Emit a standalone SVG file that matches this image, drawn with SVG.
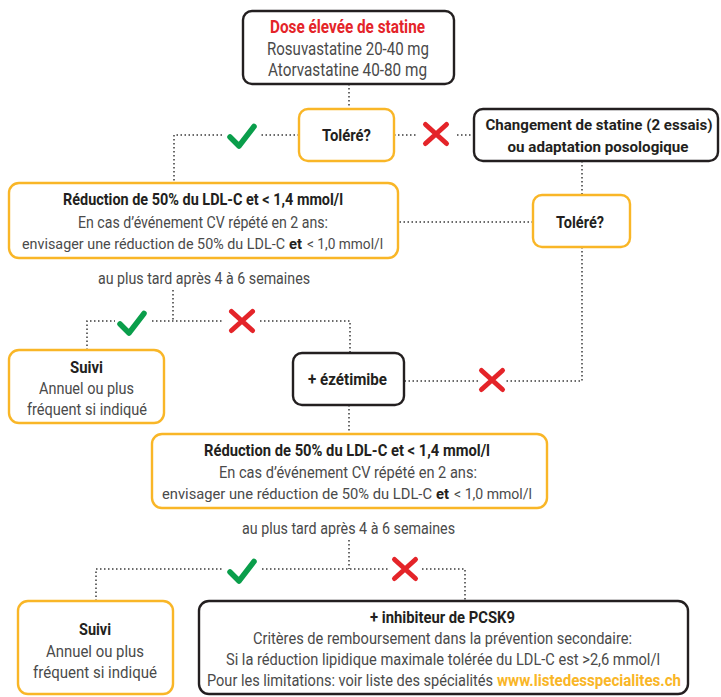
<svg xmlns="http://www.w3.org/2000/svg" width="721" height="697" viewBox="0 0 721 697">
  <style>
    .box { fill: #fff; stroke-width: 2.4; }
    .ok-box { stroke: #f9b627; }
    .act-box { stroke: #231f20; }
    text { font-family: Roboto, "Liberation Sans", sans-serif; }
    .t { font-size: 16px; fill: #4a4a4a; }
    .tb { font-size: 16px; fill: #231f20; font-weight: 700; }
    .big { font-size: 18px; }
    .sm { font-size: 15.5px; }
    .red { fill: #e42429; }
    .url { fill: #f9b627; font-weight: 700; }
    .dots { fill: none; stroke: #3a3a3a; stroke-width: 1.5; stroke-dasharray: 1.5 2.5; }
    .chk { fill: none; stroke: #0a9e4b; stroke-width: 5.5; stroke-linecap: round; stroke-linejoin: round; }
    .cross { fill: none; stroke: #e42429; stroke-width: 5; stroke-linecap: round; }
  </style>
  <defs>
    <path id="check" class="chk" d="M-12 1 L-3 10 L12 -9.5"/>
    <path id="nope" class="cross" d="M-10.5 -9.5 L10.5 9.5 M10.5 -9.5 L-10.5 9.5"/>
  </defs>

  <!-- connectors -->
  <g id="connectors">
    <path class="dots" d="M349 84 V109"/>
    <path class="dots" d="M299 135 H261 M222 135 H174 V183"/>
    <path class="dots" d="M394 135 H418 M457 135 H474"/>
    <path class="dots" d="M582 161 V195"/>
    <path class="dots" d="M533 222 H398"/>
    <path class="dots" d="M582 247 V381 H506 M478 381 H404"/>
    <path class="dots" d="M173 290 V321 M87 350 V321 H115 M152 321 H224 M260 321 H350 V353"/>
    <path class="dots" d="M349 405 V434"/>
    <path class="dots" d="M349 540 V569 M96 601 V569 H222 M262 569 H388 M422 569 H465 V601"/>
    <use href="#check" x="242" y="136"/>
    <use href="#nope" x="436" y="134"/>
    <use href="#check" x="132" y="323"/>
    <use href="#nope" x="242" y="321"/>
    <use href="#nope" x="492" y="380"/>
    <use href="#check" x="242" y="571"/>
    <use href="#nope" x="405" y="569"/>
    <text class="t" x="98" y="284" textLength="212" lengthAdjust="spacingAndGlyphs">au plus tard après 4 à 6 semaines</text>
    <text class="t" x="242" y="534" textLength="213" lengthAdjust="spacingAndGlyphs">au plus tard après 4 à 6 semaines</text>
  </g>

  <!-- high-dose statin -->
  <g id="start">
    <rect class="box act-box" x="243" y="11" width="211" height="73" rx="9"/>
    <text class="tb big red" x="270" y="33" textLength="155" lengthAdjust="spacingAndGlyphs">Dose élevée de statine</text>
    <text class="t big" x="267" y="55" textLength="162" lengthAdjust="spacingAndGlyphs">Rosuvastatine 20-40 mg</text>
    <text class="t big" x="268" y="76" textLength="159" lengthAdjust="spacingAndGlyphs">Atorvastatine 40-80 mg</text>
  </g>

  <g id="tolere1">
    <rect class="box ok-box" x="299" y="109" width="95" height="52" rx="9"/>
    <text class="tb" x="322" y="141" textLength="49" lengthAdjust="spacingAndGlyphs">Toléré?</text>
  </g>

  <g id="changement">
    <rect class="box act-box" x="474" y="109" width="244" height="52" rx="9"/>
    <text class="tb" x="599" y="130" text-anchor="middle" style="font-size:15px" textLength="227" lengthAdjust="spacingAndGlyphs">Changement de statine (2 essais)</text>
    <text class="tb" x="598" y="152" text-anchor="middle" style="font-size:15.5px" textLength="181" lengthAdjust="spacingAndGlyphs">ou adaptation posologique</text>
  </g>

  <g id="tolere2">
    <rect class="box ok-box" x="533" y="195" width="97" height="52" rx="9"/>
    <text class="tb" x="556" y="228" textLength="48" lengthAdjust="spacingAndGlyphs">Toléré?</text>
  </g>

  <g id="objectif1">
    <rect class="box ok-box" x="9" y="183" width="389" height="75" rx="10"/>
    <text class="tb" x="63" y="205" textLength="280" lengthAdjust="spacingAndGlyphs">Réduction de 50% du LDL-C et &lt; 1,4 mmol/l</text>
    <text class="t" x="78" y="228" textLength="250" lengthAdjust="spacingAndGlyphs">En cas d’événement CV répété en 2 ans:</text>
    <text class="t sm" x="285" y="249" text-anchor="end" textLength="263" lengthAdjust="spacingAndGlyphs">envisager une réduction de 50% du LDL-C</text>
    <text class="tb sm" x="295.5" y="249" text-anchor="middle" textLength="13" lengthAdjust="spacingAndGlyphs">et</text>
    <text class="t sm" x="307" y="249" textLength="76" lengthAdjust="spacingAndGlyphs">&lt; 1,0 mmol/l</text>
  </g>

  <g id="suivi1">
    <rect class="box ok-box" x="9" y="350" width="155" height="73" rx="10"/>
    <text class="tb" x="70" y="373" textLength="33" lengthAdjust="spacingAndGlyphs">Suivi</text>
    <text class="t" x="39" y="394" textLength="95" lengthAdjust="spacingAndGlyphs">Annuel ou plus</text>
    <text class="t" x="27" y="415" textLength="120" lengthAdjust="spacingAndGlyphs">fréquent si indiqué</text>
  </g>

  <g id="ezetimibe">
    <rect class="box act-box" x="293" y="353" width="111" height="52" rx="9"/>
    <text class="tb" x="308" y="385" textLength="79" lengthAdjust="spacingAndGlyphs">+ ézétimibe</text>
  </g>

  <g id="objectif2">
    <rect class="box ok-box" x="152" y="434" width="395" height="74" rx="10"/>
    <text class="tb" x="204" y="456" textLength="286" lengthAdjust="spacingAndGlyphs">Réduction de 50% du LDL-C et &lt; 1,4 mmol/l</text>
    <text class="t" x="219" y="478" textLength="258" lengthAdjust="spacingAndGlyphs">En cas d’événement CV répété en 2 ans:</text>
    <text class="t sm" x="432" y="499" text-anchor="end" textLength="270" lengthAdjust="spacingAndGlyphs">envisager une réduction de 50% du LDL-C</text>
    <text class="tb sm" x="442.5" y="499" text-anchor="middle" textLength="13" lengthAdjust="spacingAndGlyphs">et</text>
    <text class="t sm" x="454" y="499" textLength="78" lengthAdjust="spacingAndGlyphs">&lt; 1,0 mmol/l</text>
  </g>

  <g id="suivi2">
    <rect class="box ok-box" x="18" y="601" width="155" height="93" rx="10"/>
    <text class="tb" x="79" y="635" textLength="32" lengthAdjust="spacingAndGlyphs">Suivi</text>
    <text class="t" x="46" y="657" textLength="98" lengthAdjust="spacingAndGlyphs">Annuel ou plus</text>
    <text class="t" x="33" y="678" textLength="124" lengthAdjust="spacingAndGlyphs">fréquent si indiqué</text>
  </g>

  <g id="pcsk9">
    <rect class="box act-box" x="199" y="601" width="489" height="93" rx="10"/>
    <text class="tb" x="370" y="623" textLength="145" lengthAdjust="spacingAndGlyphs">+ inhibiteur de PCSK9</text>
    <text class="t" x="253" y="644" textLength="379" lengthAdjust="spacingAndGlyphs">Critères de remboursement dans la prévention secondaire:</text>
    <text class="t" x="226" y="665" textLength="434" lengthAdjust="spacingAndGlyphs">Si la réduction lipidique maximale tolérée du LDL-C est &gt;2,6 mmol/l</text>
    <text class="t" x="493" y="686" text-anchor="end" textLength="286" lengthAdjust="spacingAndGlyphs">Pour les limitations: voir liste des spécialités</text>
    <text class="t url" x="497" y="686" textLength="184" lengthAdjust="spacingAndGlyphs">www.listedesspecialites.ch</text>
  </g>
</svg>
